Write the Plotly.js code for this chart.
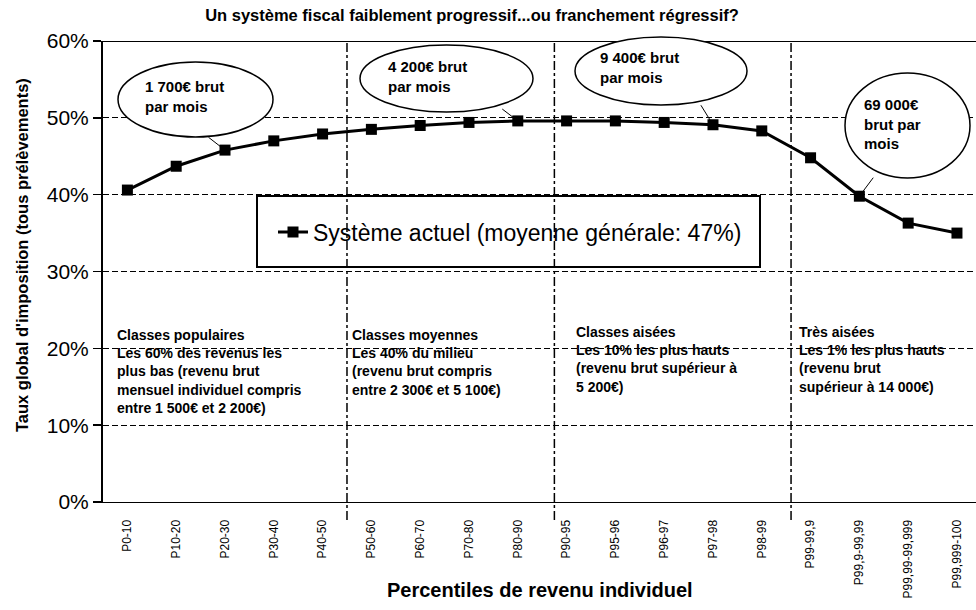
<!DOCTYPE html>
<html>
<head>
<meta charset="utf-8">
<script src="https://cdn.plot.ly/plotly-3.0.1.min.js"></script>
<style>html,body{margin:0;padding:0;background:#fff;}#chart{width:976px;height:610px;}</style>
</head>
<body>
<div id="chart"></div>
<script>
// ---- data ----
const categories = ["P0-10","P10-20","P20-30","P30-40","P40-50","P50-60","P60-70","P70-80","P80-90",
  "P90-95","P95-96","P96-97","P97-98","P98-99","P99-99,9","P99,9-99,99","P99,99-99,999","P99,999-100"];
const tauxGlobal = [40.6, 43.7, 45.8, 47.0, 47.9, 48.5, 49.0, 49.4, 49.6,
  49.6, 49.6, 49.4, 49.1, 48.3, 44.8, 39.8, 36.3, 35.0];
const seriesName = "Système actuel (moyenne générale: 47%)";
const yTickVals = [0, 10, 20, 30, 40, 50, 60];
const yTickText = ["0%", "10%", "20%", "30%", "40%", "50%", "60%"];
const calloutTexts = ["1 700€ brut<br>par mois", "4 200€ brut<br>par mois", "9 400€ brut<br>par mois", "69 000€<br>brut par<br>mois"];
const calloutIndex = [2, 8, 12, 15];
const classTexts = [
  "Classes populaires<br>Les 60% des revenus les<br>plus bas (revenu brut<br>mensuel individuel compris<br>entre 1 500€ et 2 200€)",
  "Classes moyennes<br>Les 40% du milieu<br>(revenu brut compris<br>entre 2 300€ et 5 100€)",
  "Classes aisées<br>Les 10% les plus hauts<br>(revenu brut supérieur à<br>5 200€)",
  "Très aisées<br>Les 1% les plus hauts<br>(revenu brut<br>supérieur à 14 000€)"
];
const titleText = "Un système fiscal faiblement progressif...ou franchement régressif?";
const yTitle = "Taux global d'imposition (tous prélèvements)";
const xTitle = "Percentiles de revenu individuel";

// ---- layout helpers (pixel -> paper) ----
const W = 976, H = 610, ML = 103, MR = 0, MT = 41, MB = 108;
const PW = W - ML - MR, PH = H - MT - MB;
const px = x => (x - ML) / PW;
const py = y => (H - MB - y) / PH;
const FONT = "Arial, 'Liberation Sans', sans-serif";

const trace = {
  x: categories, y: tauxGlobal, type: "scatter", mode: "lines+markers",
  name: seriesName,
  line: {color: "#000", width: 3},
  marker: {symbol: "square", size: 11, color: "#000"},
  cliponaxis: false
};

// ellipse boxes (pixel geometry)
const ellipses = [[118, 62, 273, 137], [360, 45, 533, 112], [575, 37, 747, 105], [845, 73, 970, 178]];
const calloutTextPos = [[143, 96], [386, 76], [598, 68], [862, 124]];
const pointerOffsets = [[-18, -14], [-17, -13], [-13, -21], [15, -20]];
const classPos = [[115, 325], [350, 325], [574, 322], [797, 322]];

const shapes = [];
// top solid border at 60%
shapes.push({type: "line", xref: "paper", yref: "y", x0: 0, x1: 1, y0: 60, y1: 60, line: {color: "#000", width: 2}});
// vertical dash-dot separators
[4.5, 8.75, 13.6].forEach(v => shapes.push({type: "line", xref: "x", yref: "paper", x0: v, x1: v, y0: py(520), y1: 1,
  line: {color: "#000", width: 1.5, dash: "dashdot"}}));
// legend frame
shapes.push({type: "rect", xref: "paper", yref: "paper", x0: px(257), x1: px(760), y0: py(267), y1: py(196),
  line: {color: "#000", width: 2}, fillcolor: "rgba(0,0,0,0)"});
// callout ellipses
ellipses.forEach(e => shapes.push({type: "circle", xref: "paper", yref: "paper",
  x0: px(e[0]), x1: px(e[2]), y0: py(e[3]), y1: py(e[1]), line: {color: "#000", width: 1.5}, fillcolor: "#fff"}));

const annotations = [];
calloutTexts.forEach((t, i) => {
  annotations.push({xref: "paper", yref: "paper", x: px(calloutTextPos[i][0]), y: py(calloutTextPos[i][1]),
    xanchor: "left", yanchor: "middle", align: "left", showarrow: false, text: "<b>" + t + "</b>",
    font: {family: FONT, size: 15, color: "#000"}});
  const k = calloutIndex[i];
  annotations.push({xref: "x", yref: "y", x: categories[k], y: tauxGlobal[k], text: "", showarrow: true,
    arrowhead: 0, arrowwidth: 1, arrowcolor: "#000", ax: pointerOffsets[i][0], ay: pointerOffsets[i][1], standoff: 0});
});
classTexts.forEach((t, i) => annotations.push({xref: "paper", yref: "paper", x: px(classPos[i][0]), y: py(classPos[i][1]),
  xanchor: "left", yanchor: "top", align: "left", showarrow: false, text: "<b>" + t + "</b>",
  font: {family: FONT, size: 14, color: "#000"}}));
// axis titles
annotations.push({xref: "paper", yref: "paper", x: px(540), y: py(590), xanchor: "center", yanchor: "middle",
  showarrow: false, text: "<b>" + xTitle + "</b>", font: {family: FONT, size: 20, color: "#000"}});
annotations.push({xref: "paper", yref: "paper", x: px(22), y: py(255), xanchor: "center", yanchor: "middle", textangle: -90,
  showarrow: false, text: "<b>" + yTitle + "</b>", font: {family: FONT, size: 16.5, color: "#000"}});

const layout = {
  width: W, height: H,
  margin: {l: ML, r: MR, t: MT, b: MB, pad: 0},
  paper_bgcolor: "#fff", plot_bgcolor: "#fff",
  font: {family: FONT, color: "#000"},
  title: {text: "<b>" + titleText + "</b>", x: 472 / W, xref: "container", xanchor: "center",
    y: 1 - 15 / H, yref: "container", yanchor: "middle", font: {family: FONT, size: 16.5, color: "#000"}},
  xaxis: {type: "category", range: [-0.5, 17.39], tickangle: -90, tickfont: {family: FONT, size: 12, color: "#000"},
    ticklabelstandoff: 12,
    showline: true, linecolor: "#000", linewidth: 1, ticks: "", showgrid: false, zeroline: false, fixedrange: true},
  yaxis: {range: [0, 60], tickvals: yTickVals, ticktext: yTickText, tickfont: {family: FONT, size: 21, color: "#000"},
    showline: true, linecolor: "#000", linewidth: 2, ticks: "outside", ticklen: 8, tickwidth: 1.5, tickcolor: "#000",
    showgrid: true, gridcolor: "#000", gridwidth: 1, griddash: "6px,3px", zeroline: false, fixedrange: true},
  showlegend: true,
  legend: {x: px(273), y: py(232), xanchor: "left", yanchor: "middle", bgcolor: "rgba(0,0,0,0)",
    borderwidth: 0, font: {family: FONT, size: 23, color: "#000"}},
  shapes: shapes,
  annotations: annotations
};

Plotly.newPlot("chart", [trace], layout, {staticPlot: true, displayModeBar: false});
</script>
</body>
</html>
